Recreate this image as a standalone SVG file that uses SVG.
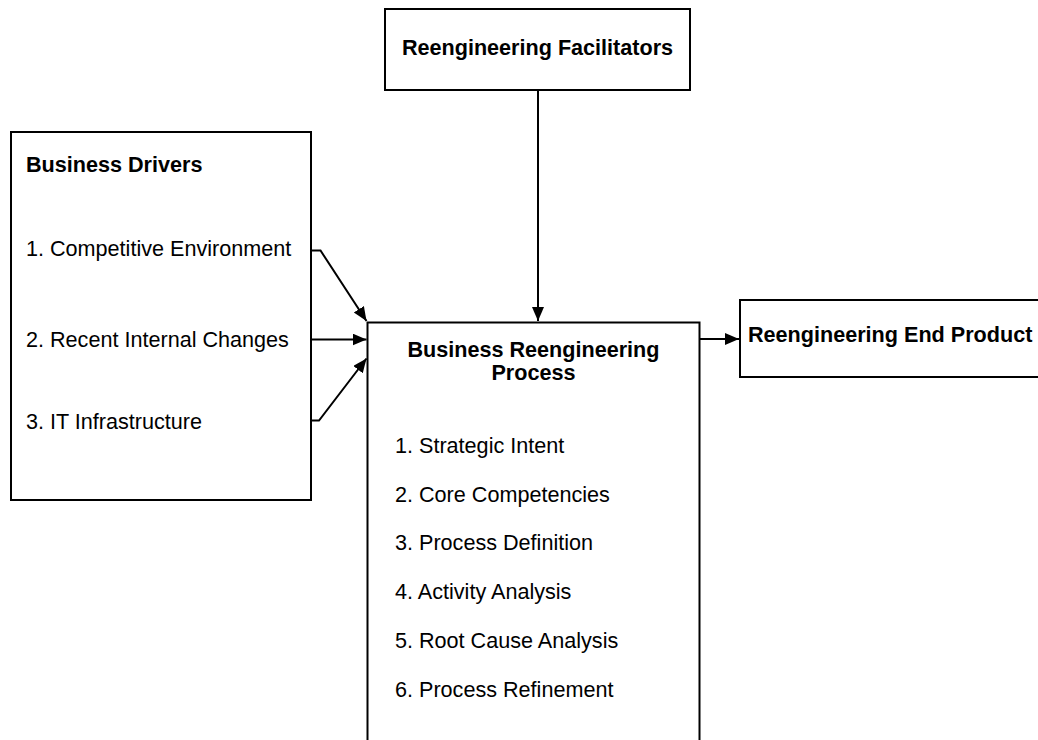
<svg xmlns="http://www.w3.org/2000/svg" width="1038" height="740" viewBox="0 0 1038 740">
  <style>
    .box { fill: #ffffff; stroke: #000000; stroke-width: 2; }
    .edge { fill: none; stroke: #000000; stroke-width: 2; }
    .title { font-family: "Liberation Sans", Arial, sans-serif; font-size: 21.6px; font-weight: bold; fill: #000000; }
    .item { font-family: "Liberation Sans", Arial, sans-serif; font-size: 21.6px; fill: #000000; }
  </style>
  <defs>
    <marker id="arrow" markerUnits="userSpaceOnUse" markerWidth="15" markerHeight="13" refX="14" refY="6" orient="auto">
      <path d="M0,0 L14,6 L0,12 z" fill="#000000"/>
    </marker>
  </defs>

  <rect width="1038" height="740" fill="#ffffff"/>

  <!-- Facilitators box at the top -->
  <g id="facilitators">
    <rect class="box" x="385" y="9" width="305" height="81"/>
    <text class="title" x="537.5" y="55" text-anchor="middle">Reengineering Facilitators</text>
  </g>

  <!-- Drivers box on the left -->
  <g id="drivers">
    <rect class="box" x="11" y="132" width="300" height="368"/>
    <text class="title" x="26" y="172">Business Drivers</text>
    <text class="item" x="26" y="256">1. Competitive Environment</text>
    <text class="item" x="26" y="347">2. Recent Internal Changes</text>
    <text class="item" x="26" y="429">3. IT Infrastructure</text>
  </g>

  <!-- Central process box, running off the bottom edge -->
  <g id="process">
    <rect class="box" x="367.5" y="322.5" width="332" height="430"/>
    <text class="title" x="533.5" y="357" text-anchor="middle">Business Reengineering</text>
    <text class="title" x="533.5" y="380" text-anchor="middle">Process</text>
    <text class="item" x="395" y="453">1. Strategic Intent</text>
    <text class="item" x="395" y="502">2. Core Competencies</text>
    <text class="item" x="395" y="550">3. Process Definition</text>
    <text class="item" x="395" y="599">4. Activity Analysis</text>
    <text class="item" x="395" y="648">5. Root Cause Analysis</text>
    <text class="item" x="395" y="697">6. Process Refinement</text>
  </g>

  <!-- End product box, running off the right edge -->
  <g id="end-product">
    <rect class="box" x="740" y="300" width="310" height="77"/>
    <text class="title" x="748" y="342">Reengineering End Product</text>
  </g>

  <!-- Connectors -->
  <g id="connectors">
    <path class="edge" d="M538,90 L538,321" marker-end="url(#arrow)"/>
    <path class="edge" d="M311,250.5 L320.5,250.5 L366.5,321" marker-end="url(#arrow)"/>
    <path class="edge" d="M311,339.5 L366.5,339.5" marker-end="url(#arrow)"/>
    <path class="edge" d="M311,420.5 L319,420.5 L366.5,358.5" marker-end="url(#arrow)"/>
    <path class="edge" d="M700,339 L739,339" marker-end="url(#arrow)"/>
  </g>
</svg>
